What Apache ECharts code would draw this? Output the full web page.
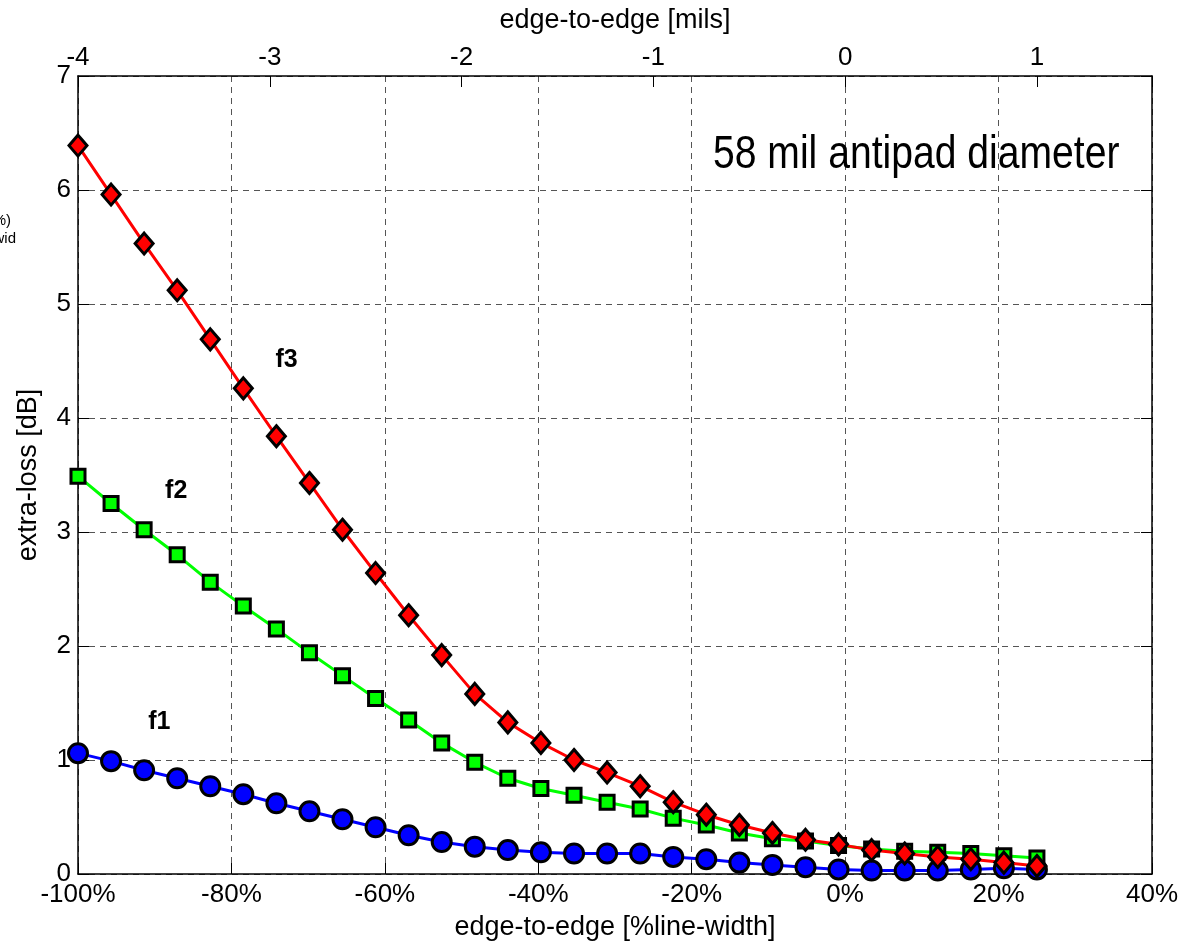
<!DOCTYPE html>
<html>
<head>
<meta charset="utf-8">
<title>extra-loss vs edge-to-edge</title>
<script src="https://cdn.jsdelivr.net/npm/echarts@6/dist/echarts.min.js"></script>
<style>
  html, body { margin: 0; padding: 0; background: #fff; }
  #chart { width: 1194px; height: 946px; }
</style>
</head>
<body>
<div id="chart"></div>
<script>
// edge-to-edge offset in % of line width (line width = 4 mils)
const edgePct = [-100, -95.69, -91.38, -87.07, -82.76, -78.45, -74.14, -69.83, -65.52, -61.21,
                 -56.90, -52.59, -48.28, -43.97, -39.66, -35.34, -31.03, -26.72, -22.41, -18.10,
                 -13.79, -9.48, -5.17, -0.86, 3.45, 7.76, 12.07, 16.38, 20.69, 25.00];

// extra-loss [dB] at three frequencies
const lossF1 = [1.06, 0.99, 0.91, 0.84, 0.77, 0.70, 0.62, 0.55, 0.48, 0.41,
                0.34, 0.28, 0.24, 0.21, 0.19, 0.18, 0.18, 0.18, 0.15, 0.13,
                0.10, 0.08, 0.06, 0.04, 0.03, 0.03, 0.03, 0.04, 0.05, 0.04];
const lossF2 = [3.49, 3.25, 3.02, 2.80, 2.56, 2.35, 2.15, 1.94, 1.74, 1.54,
                1.35, 1.15, 0.98, 0.84, 0.75, 0.69, 0.63, 0.57, 0.49, 0.43,
                0.36, 0.31, 0.29, 0.25, 0.22, 0.20, 0.19, 0.18, 0.16, 0.14];
const lossF3 = [6.39, 5.96, 5.53, 5.12, 4.69, 4.26, 3.84, 3.43, 3.02, 2.64,
                2.27, 1.92, 1.58, 1.33, 1.15, 1.00, 0.89, 0.77, 0.63, 0.52,
                0.43, 0.36, 0.30, 0.26, 0.21, 0.18, 0.15, 0.13, 0.10, 0.07];

// curve tags placed in data coordinates
const tagNames = ['f1', 'f2', 'f3'];
const tagPos = [[-89.4, 1.33], [-87.2, 3.36], [-72.8, 4.51]];

const FONT = "'Liberation Sans', Arial, Helvetica, sans-serif";

function pairs(ys) { return edgePct.map((x, i) => [x, ys[i]]); }

const chart = echarts.init(document.getElementById('chart'), null, { renderer: 'canvas' });

const axisLineStyle = { color: '#000', width: 1.5 };
const gridLine = { show: true, lineStyle: { color: '#555', width: 1, type: [6, 5] } };

function lineSeries(name, ys, color, symbol, size) {
  return {
    name: name,
    type: 'line',
    xAxisIndex: 0,
    yAxisIndex: 0,
    data: pairs(ys),
    symbol: symbol,
    symbolSize: size,
    showAllSymbol: true,
    lineStyle: { color: color, width: 3 },
    itemStyle: { color: color, borderColor: '#000', borderWidth: 3 },
    emphasis: { disabled: true },
    z: 3
  };
}

chart.setOption({
  animation: false,
  backgroundColor: '#fff',
  textStyle: { fontFamily: FONT },
  grid: { left: 78, top: 76, width: 1074, height: 798, containLabel: false },
  xAxis: [
    {
      type: 'value', position: 'bottom',
      min: -100, max: 40, interval: 20,
      name: 'edge-to-edge [%line-width]', nameLocation: 'middle', nameGap: 40,
      nameTextStyle: { fontSize: 27, color: '#000', fontFamily: FONT },
      axisLine: { show: true, onZero: false, lineStyle: axisLineStyle },
      axisTick: { show: true, inside: true, length: 11, lineStyle: { color: '#000', width: 1 } },
      axisLabel: { formatter: '{value}%', fontSize: 26, color: '#000', margin: 8, fontFamily: FONT },
      splitLine: gridLine
    },
    {
      type: 'value', position: 'top',
      min: -4, max: 1.6, interval: 1,
      name: 'edge-to-edge [mils]', nameLocation: 'middle', nameGap: 42,
      nameTextStyle: { fontSize: 27, color: '#000', fontFamily: FONT },
      axisLine: { show: true, onZero: false, lineStyle: axisLineStyle },
      axisTick: { show: true, inside: true, length: 11, lineStyle: { color: '#000', width: 1 } },
      axisLabel: {
        fontSize: 26, color: '#000', margin: 5, fontFamily: FONT,
        formatter: v => (Math.abs(v - Math.round(v)) < 1e-6 ? String(Math.round(v)) : '')
      },
      splitLine: { show: false }
    }
  ],
  yAxis: [
    {
      type: 'value', position: 'left',
      min: 0, max: 7, interval: 1,
      name: 'extra-loss [dB]', nameLocation: 'middle', nameGap: 36,
      nameTextStyle: { fontSize: 27, color: '#000', fontFamily: FONT },
      axisLine: { show: true, onZero: false, lineStyle: axisLineStyle },
      axisTick: { show: true, inside: true, length: 11, lineStyle: { color: '#000', width: 1 } },
      axisLabel: { fontSize: 26, color: '#000', margin: 7, fontFamily: FONT },
      splitLine: gridLine
    },
    {
      type: 'value', position: 'right',
      min: 0, max: 7, interval: 1,
      axisLine: { show: true, onZero: false, lineStyle: axisLineStyle },
      axisTick: { show: true, inside: true, length: 11, lineStyle: { color: '#000', width: 1 } },
      axisLabel: { show: false },
      splitLine: { show: false }
    }
  ],
  series: [
    lineSeries('f1', lossF1, '#0000ff', 'circle', 19),
    lineSeries('f2', lossF2, '#00ff00', 'rect', 14),
    lineSeries('f3', lossF3, '#ff0000', 'diamond', [18, 21])
  ],
  graphic: [
    {
      id: 'title', type: 'text', x: 713, y: 155, scaleX: 0.85, silent: true, z: 10,
      style: {
        text: '58 mil antipad diameter', fill: '#000',
        font: "46px 'Liberation Sans', Arial, sans-serif",
        textAlign: 'left', textVerticalAlign: 'middle'
      }
    },
    {
      id: 'side1', type: 'text', x: 11, y: 221, silent: true,
      style: { text: '(%)', fill: '#000', font: "15px 'Liberation Sans', Arial, sans-serif",
               textAlign: 'right', textVerticalAlign: 'middle' }
    },
    {
      id: 'side2', type: 'text', x: 16, y: 239, silent: true,
      style: { text: 'line-wid', fill: '#000', font: "15px 'Liberation Sans', Arial, sans-serif",
               textAlign: 'right', textVerticalAlign: 'middle' }
    }
  ]
});

// curve tags, positioned through the axes' own scales
chart.setOption({
  graphic: tagNames.map((t, i) => {
    const p = chart.convertToPixel({ xAxisIndex: 0, yAxisIndex: 0 }, tagPos[i]);
    return {
      id: 'tag-' + t, type: 'text', x: p[0], y: p[1], silent: true, z: 10,
      style: {
        text: t, fill: '#000', font: "bold 25px 'Liberation Sans', Arial, sans-serif",
        textAlign: 'center', textVerticalAlign: 'middle'
      }
    };
  })
});
</script>
</body>
</html>
